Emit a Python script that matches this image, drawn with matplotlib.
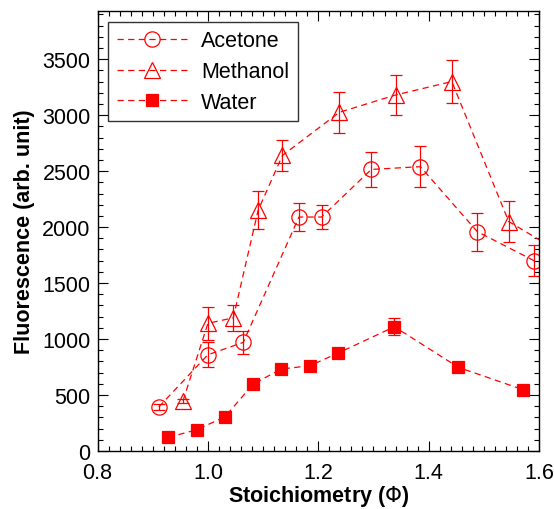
import matplotlib
matplotlib.use("Agg")
import matplotlib.pyplot as plt
import matplotlib.transforms as mtrans
from matplotlib.ticker import MultipleLocator, FormatStrFormatter
from matplotlib.lines import Line2D

plt.rcParams['font.family'] = ['Liberation Sans', 'DejaVu Sans']

# data
ace_x = [0.911, 1.000, 1.064, 1.165, 1.206, 1.296, 1.385, 1.488, 1.591]
ace_y = [393, 860, 970, 2090, 2090, 2515, 2540, 1960, 1700]
ace_e = [30, 110, 100, 125, 110, 158, 180, 170, 140]

met_x = [0.955, 1.000, 1.046, 1.091, 1.135, 1.238, 1.340, 1.442, 1.545, 1.640]
met_y = [449, 1140, 1190, 2150, 2640, 3025, 3180, 3300, 2050, 1770]
met_e = [20, 150, 116, 170, 135, 180, 175, 192, 183, 0]

wat_x = [0.928, 0.980, 1.031, 1.082, 1.133, 1.185, 1.236, 1.338, 1.454, 1.571]
wat_y = [122, 190, 306, 598, 732, 762, 875, 1110, 747, 548]
wat_e = [20, 20, 20, 30, 30, 30, 30, 75, 30, 20]

names = ['Acetone', 'Methanol', 'Water']

fig = plt.figure(figsize=(5.54, 5.10), dpi=100)
ax = fig.add_axes([0.176, 0.1137, 0.797, 0.8627])

red = '#ff0000'
dash = (0, (5, 3.5))
common = dict(color=red, ls=dash, lw=0.9, elinewidth=0.9, capsize=4, capthick=0.9)
styles = [dict(marker='o', ms=11, mfc='none'),
          dict(marker='^', ms=12, mfc='none'),
          dict(marker='s', ms=9, mfc=red)]

for (x, y, e), st in zip([(ace_x, ace_y, ace_e), (met_x, met_y, met_e),
                          (wat_x, wat_y, wat_e)], styles):
    ax.errorbar(x, y, yerr=e, mec=red, mew=0.9, **st, **common)

ax.set_xlim(0.8, 1.6)
ax.set_ylim(0, 3930)
ax.xaxis.set_major_locator(MultipleLocator(0.2))
ax.xaxis.set_minor_locator(MultipleLocator(0.02))
ax.yaxis.set_major_locator(MultipleLocator(500))
ax.yaxis.set_minor_locator(MultipleLocator(100))
ax.xaxis.set_major_formatter(FormatStrFormatter('%.1f'))
ax.tick_params(which='both', direction='in', top=True, right=True, labelsize=15.5, width=0.8)
ax.tick_params(which='major', length=7)
ax.tick_params(which='minor', length=3.5)
ax.tick_params(axis='x', pad=8)
ax.tick_params(axis='y', pad=5)
for s in ax.spines.values():
    s.set_linewidth(1.0)

# nudge the "0" on the y axis up a little so it clears "0.8"
lab0 = ax.yaxis.get_major_ticks()[0].label1
lab0.set_transform(lab0.get_transform() +
                   mtrans.ScaledTranslation(0, 3 / 72, fig.dpi_scale_trans))

ax.set_xlabel('Stoichiometry ($\\Phi$)', fontsize=15.5, fontweight='bold', labelpad=0)
ax.set_ylabel('Fluorescence (arb. unit)', fontsize=15.5, fontweight='bold', labelpad=5)

handles = [Line2D([], [], color=red, ls=dash, lw=0.9, mec=red, mew=0.9, **st)
           for st in styles]
leg = ax.legend(handles, names, loc='upper left', fontsize=15.5, frameon=True,
                fancybox=False, edgecolor='black', borderaxespad=0.5,
                handlelength=3.3, handletextpad=0.6, labelspacing=0.45,
                borderpad=0.4)
leg.get_frame().set_linewidth(1.0)

fig.savefig('out.png', dpi=100)
